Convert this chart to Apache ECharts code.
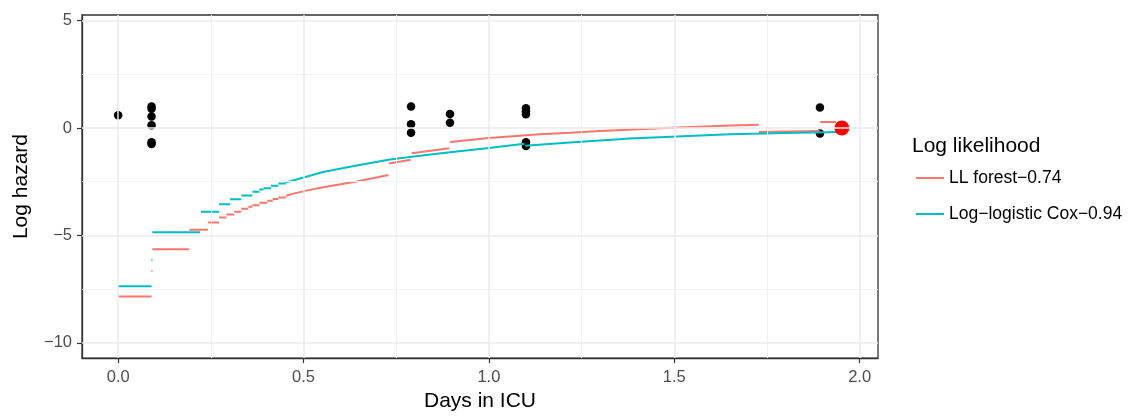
<!DOCTYPE html>
<html>
<head>
<meta charset="utf-8">
<script src="https://cdn.jsdelivr.net/npm/echarts@6/dist/echarts.min.js"></script>
<style>
  html, body { margin: 0; padding: 0; background: #fff; }
  #chart { width: 1135px; height: 417px; }
</style>
</head>
<body>
<div id="chart"></div>
<script>
// tick labels
const xTicks = [0, 0.5, 1, 1.5, 2]
const yTicks = [-10, -5, 0, 5]
const xMinor = [0.25, 0.75, 1.25, 1.75]
const yMinor = [-7.5, -2.5, 2.5]

// observed events (black dots)
const eventPoints = [
  [0, 0.59],
  [0.09, 1.0], [0.09, 0.9], [0.09, 0.53], [0.09, 0.13], [0.09, -0.66], [0.09, -0.75],
  [0.79, 1.0], [0.79, 0.18], [0.79, -0.22],
  [0.895, 0.65], [0.895, 0.25],
  [1.1, 0.92], [1.1, 0.78], [1.1, 0.64], [1.1, -0.66], [1.1, -0.84],
  [1.893, 0.95], [1.893, -0.26]
]
// end point (red dot)
const endPoint = [[1.952, 0]]

// LL forest log hazard, piece by piece
const forestSegments = [
  [[0, -7.84], [0.09, -7.84]],
  [[0.0895, -6.66], [0.0925, -6.66]],
  [[0.092, -5.64], [0.191, -5.64]],
  [[0.192, -4.74], [0.242, -4.74]],
  [[0.242, -4.40], [0.272, -4.40]],
  [[0.272, -4.17], [0.292, -4.17]],
  [[0.292, -4.03], [0.313, -4.03]],
  [[0.313, -3.90], [0.332, -3.90]],
  [[0.332, -3.76], [0.351, -3.76]],
  [[0.351, -3.66], [0.362, -3.66]],
  [[0.362, -3.59], [0.381, -3.59]],
  [[0.381, -3.48], [0.402, -3.48]],
  [[0.402, -3.39], [0.417, -3.39]],
  [[0.417, -3.31], [0.432, -3.31]],
  [[0.432, -3.23], [0.453, -3.23]],
  [[0.453, -3.15], [0.464, -3.09], [0.517, -2.88], [0.553, -2.76], [0.643, -2.49], [0.729, -2.19]],
  [[0.730, -1.65], [0.789, -1.48]],
  [[0.792, -1.17], [0.893, -0.94]],
  [[0.895, -0.65], [1.0, -0.47], [1.137, -0.29], [1.218, -0.22], [1.30, -0.14], [1.48, 0.0], [1.65, 0.12], [1.728, 0.15]],
  [[1.728, -0.19], [1.892, -0.14]],
  [[1.894, 0.28], [1.937, 0.28]]
]

// Log-logistic Cox log hazard
const coxSegments = [
  [[0, -7.36], [0.09, -7.36]],
  [[0.0895, -6.15], [0.0925, -6.15]],
  [[0.092, -4.85], [0.221, -4.85]],
  [[0.223, -3.90], [0.272, -3.90]],
  [[0.272, -3.55], [0.302, -3.55]],
  [[0.302, -3.32], [0.332, -3.32]],
  [[0.332, -3.14], [0.362, -3.14]],
  [[0.362, -2.97], [0.381, -2.97]],
  [[0.381, -2.86], [0.392, -2.86]],
  [[0.392, -2.80], [0.412, -2.80]],
  [[0.412, -2.69], [0.432, -2.69]],
  [[0.432, -2.58], [0.453, -2.58]],
  [[0.453, -2.52], [0.464, -2.48], [0.553, -2.05], [0.643, -1.75], [0.733, -1.47], [0.814, -1.29], [0.895, -1.13], [1.0, -0.93], [1.096, -0.73]],
  [[1.098, -0.83], [1.218, -0.68], [1.38, -0.49], [1.65, -0.29], [1.80, -0.23], [1.95, -0.19]]
]

const seriesNames = ['LL forest\u22120.74', 'Log\u2212logistic Cox\u22120.94']
const seriesColors = ['#F8766D', '#00BFC4']

// join pieces, with a gap between them
function joinSegments(segs) {
  let out = []
  segs.forEach(seg => {
    seg.forEach(p => out.push(p))
    out.push([seg[seg.length - 1][0], '-'])
  })
  return out
}

// one dummy series per grid line family
function gridLines(xs, ys, color, width) {
  return {
    type: 'line',
    data: [],
    silent: true,
    z: 0,
    markLine: {
      silent: true,
      symbol: ['none', 'none'],
      label: { show: false },
      animation: false,
      lineStyle: { color: color, width: width, type: 'solid', opacity: 1 },
      emphasis: { disabled: true },
      data: [...xs.map(v => ({ xAxis: v })), ...ys.map(v => ({ yAxis: v }))]
    }
  }
}

const fontFamily = '"Liberation Sans", Arial, sans-serif'
const myChart = echarts.init(document.getElementById('chart'), null, {renderer: 'canvas'})

var option = {
  animation: false,
  backgroundColor: '#fff',
  grid: {
    left: 82,
    right: 257,
    top: 15,
    bottom: 57,
    show: true,
    borderColor: '#333333',
    borderWidth: 1.3,
    backgroundColor: '#fff'
  },
  legend: {
    data: seriesNames,
    orient: 'vertical',
    left: 916,
    top: 168,
    padding: 0,
    icon: 'rect',
    itemWidth: 28,
    itemHeight: 2,
    itemGap: 16,
    itemTextGap: 7,
    textStyle: { fontFamily: fontFamily, fontSize: 17.5, color: '#000', lineHeight: 20 }
  },
  graphic: [{
    type: 'text',
    left: 912,
    top: 136,
    style: { text: 'Log likelihood', font: '21px ' + fontFamily, fill: '#000' }
  }],
  xAxis: {
    type: 'value',
    min: -0.0976,
    max: 2.0496,
    name: 'Days in ICU',
    nameLocation: 'middle',
    nameGap: 30,
    nameTextStyle: { fontFamily: fontFamily, fontSize: 21, color: '#000' },
    axisLine: { show: true, onZero: false, lineStyle: { color: '#333333', width: 1.3 } },
    axisTick: { show: true, length: 5, customValues: xTicks, lineStyle: { color: '#333333', width: 1.2 } },
    axisLabel: {
      customValues: xTicks,
      margin: 11,
      fontFamily: fontFamily,
      fontSize: 16.5,
      color: '#4D4D4D',
      formatter: v => v.toFixed(1)
    },
    splitLine: { show: false }
  },
  yAxis: {
    type: 'value',
    min: -10.71,
    max: 5.26,
    name: 'Log hazard',
    nameLocation: 'middle',
    nameGap: 50,
    nameTextStyle: { fontFamily: fontFamily, fontSize: 21, color: '#000' },
    axisLine: { show: true, onZero: false, lineStyle: { color: '#333333', width: 1.3 } },
    axisTick: { show: true, length: 5, customValues: yTicks, lineStyle: { color: '#333333', width: 1.2 } },
    axisLabel: {
      customValues: yTicks,
      margin: 10,
      fontFamily: fontFamily,
      fontSize: 16.5,
      color: '#4D4D4D',
      formatter: v => (v < 0 ? '\u2212' + Math.abs(v) : String(v))
    },
    splitLine: { show: false }
  },
  series: [
    gridLines(xMinor, yMinor, '#F3F3F3', 1),
    gridLines(xTicks, yTicks, '#EBEBEB', 1.5),
    {
      name: 'events',
      type: 'scatter',
      data: eventPoints,
      symbolSize: 8.5,
      itemStyle: { color: '#000', opacity: 1 },
      z: 2
    },
    {
      name: seriesNames[0],
      type: 'line',
      data: joinSegments(forestSegments),
      showSymbol: false,
      symbol: 'none',
      connectNulls: false,
      lineStyle: { color: seriesColors[0], width: 2 },
      itemStyle: { color: seriesColors[0] },
      z: 3
    },
    {
      name: seriesNames[1],
      type: 'line',
      data: joinSegments(coxSegments),
      showSymbol: false,
      symbol: 'none',
      connectNulls: false,
      lineStyle: { color: seriesColors[1], width: 2 },
      itemStyle: { color: seriesColors[1] },
      z: 3
    },
    {
      name: 'end',
      type: 'scatter',
      data: endPoint,
      symbolSize: 15,
      itemStyle: { color: '#FF0000', opacity: 1 },
      z: 4
    }
  ]
}
myChart.setOption(option)
</script>
</body>
</html>
